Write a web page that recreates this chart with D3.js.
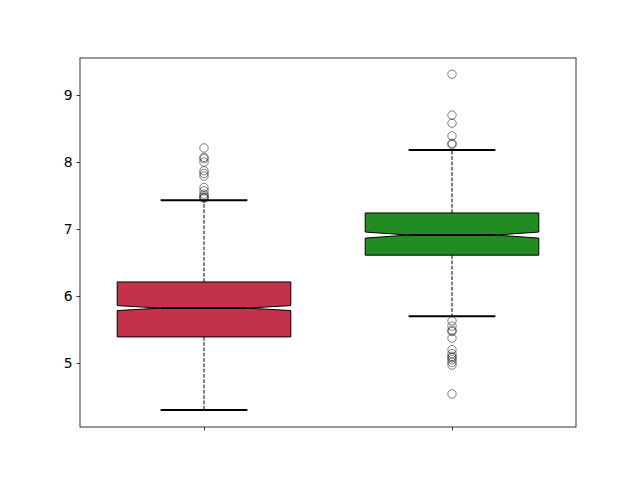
<!DOCTYPE html>
<html><head><meta charset="utf-8">
<script src="https://cdn.jsdelivr.net/npm/d3@7"></script>
<style>body{margin:0;background:#fff;}svg{display:block;font-family:"DejaVu Sans",sans-serif;}</style>
</head><body>
<svg id="c" width="640" height="480"></svg>
<script>
const categories = [1, 2];
const colors = ["#C4314B", "#228B22"];
const q1 = [5.39, 6.61];
const median = [5.82, 6.91];
const q3 = [6.21, 7.24];
const notchLo = [5.783, 6.865];
const notchHi = [5.857, 6.955];
const whiskerLo = [4.30, 5.70];
const whiskerHi = [7.43, 8.18];
const outliers1 = [8.21, 8.07, 8.05, 8.0, 7.87, 7.83, 7.79, 7.62, 7.57, 7.52, 7.49, 7.47, 7.46];
const outliers2 = [9.31, 8.70, 8.58, 8.39, 8.28, 8.26, 5.63, 5.55, 5.49, 5.47, 5.37, 5.20, 5.14, 5.10, 5.08, 5.05, 5.01, 4.97, 4.54];
const outliers = [outliers1, outliers2];
const yTicks = [5, 6, 7, 8, 9];

const svg = d3.select("#c");
const L = 80, R = 576, T = 58, B = 427;
const x = d3.scaleLinear().domain([0.5, 2.5]).range([L, R]);
const y = d3.scaleLinear().domain([4.0455, 9.5525]).range([B, T]);
const bw = 0.7, capw = 0.35;

categories.forEach((c, i) => {
  const x0 = x(c - bw / 2), x1 = x(c + bw / 2), m0 = x(c - bw / 4), m1 = x(c + bw / 4);
  const xc = x(c);
  // whiskers
  [[q1[i], whiskerLo[i]], [q3[i], whiskerHi[i]]].forEach(([a, b]) => {
    svg.append("line").attr("x1", xc).attr("x2", xc).attr("y1", y(a)).attr("y2", y(b))
      .attr("stroke", "#000").attr("stroke-width", 1).attr("stroke-dasharray", "3.7,1.6");
  });
  // caps
  [whiskerLo[i], whiskerHi[i]].forEach(v => {
    svg.append("line").attr("x1", x(c - capw / 2)).attr("x2", x(c + capw / 2))
      .attr("y1", y(v)).attr("y2", y(v)).attr("stroke", "#000").attr("stroke-width", 2);
  });
  // notched box
  const pts = [[x0, y(q1[i])], [x1, y(q1[i])], [x1, y(notchLo[i])], [m1, y(median[i])], [x1, y(notchHi[i])],
    [x1, y(q3[i])], [x0, y(q3[i])], [x0, y(notchHi[i])], [m0, y(median[i])], [x0, y(notchLo[i])]];
  svg.append("path").attr("d", d3.line()(pts) + "Z").attr("fill", colors[i])
    .attr("stroke", "#000").attr("stroke-width", 1);
  // median
  svg.append("line").attr("x1", m0).attr("x2", m1).attr("y1", y(median[i])).attr("y2", y(median[i]))
    .attr("stroke", "#000").attr("stroke-width", 2);
  // outliers
  svg.selectAll(null).data(outliers[i]).enter().append("circle")
    .attr("cx", xc).attr("cy", d => y(d)).attr("r", 4.2)
    .attr("fill", "none").attr("stroke", "#000").attr("stroke-opacity", 0.5).attr("stroke-width", 1);
});

// axes
const gy = svg.append("g").attr("transform", `translate(${L},0)`)
  .call(d3.axisLeft(y).tickValues(yTicks).tickSize(3.5).tickPadding(4).tickFormat(d3.format("d")));
gy.select(".domain").remove();
gy.selectAll("text").attr("font-size", 13.9).attr("fill", "#000").attr("font-family", "DejaVu Sans");
gy.selectAll("line").attr("stroke", "#000").attr("stroke-width", 0.8);
const gx = svg.append("g").attr("transform", `translate(0,${B})`)
  .call(d3.axisBottom(x).tickValues(categories).tickSize(3.5).tickFormat(""));
gx.select(".domain").remove();
gx.selectAll("line").attr("stroke", "#000").attr("stroke-width", 0.8);
svg.append("rect").attr("x", L).attr("y", T).attr("width", R - L).attr("height", B - T)
  .attr("fill", "none").attr("stroke", "#000").attr("stroke-width", 0.8);
</script>
</body></html>
